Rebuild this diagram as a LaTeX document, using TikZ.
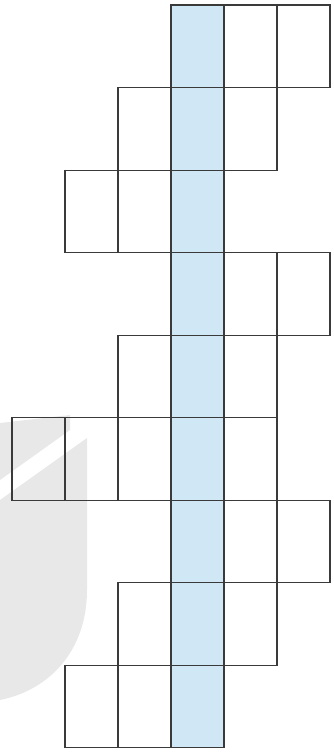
\documentclass[tikz,border=0pt]{standalone}
\usetikzlibrary{positioning}
\definecolor{edge}{HTML}{3A3A3A}
\definecolor{strip}{HTML}{D0E7F6}
\definecolor{wmgrey}{HTML}{E8E8E8}

\begin{document}
\begin{tikzpicture}[x=0.75pt,y=-0.75pt,cell/.style={draw=edge,line width=0.8pt,minimum width=39.75pt,minimum height=61.9pt,inner sep=0pt,outer sep=0pt},mid/.style={cell,fill=strip}]
\useasboundingbox (0,0) rectangle (333,752);
% faint logo behind the grid
\fill[wmgrey] (0,423) -- (70,415) -- (70,430) -- (0,480) -- cycle;
\fill[wmgrey] (0,500) -- (87,438) -- (87,590) .. controls (87,650) and (50,690) .. (0,700) -- cycle;
% shaded middle column
\node[mid] (m1) at (197.5,46.3) {};
\node[mid,below=0pt of m1] (m2) {};
\node[mid,below=0pt of m2] (m3) {};
\node[mid,below=0pt of m3] (m4) {};
\node[mid,below=0pt of m4] (m5) {};
\node[mid,below=0pt of m5] (m6) {};
\node[mid,below=0pt of m6] (m7) {};
\node[mid,below=0pt of m7] (m8) {};
\node[mid,below=0pt of m8] (m9) {};
% side cells
\node[cell,right=0pt of m1] (c14) {};
\node[cell,right=0pt of c14] (c15) {};
\node[cell,left=0pt of m2] (c22) {};
\node[cell,right=0pt of m2] (c24) {};
\node[cell,left=0pt of m3] (c32) {};
\node[cell,left=0pt of c32] (c31) {};
\node[cell,right=0pt of m4] (c44) {};
\node[cell,right=0pt of c44] (c45) {};
\node[cell,left=0pt of m5] (c52) {};
\node[cell,right=0pt of m5] (c54) {};
\node[cell,left=0pt of m6] (c62) {};
\node[cell,left=0pt of c62] (c61) {};
\node[cell,left=0pt of c61] (c60) {};
\node[cell,right=0pt of m6] (c64) {};
\node[cell,right=0pt of m7] (c74) {};
\node[cell,right=0pt of c74] (c75) {};
\node[cell,left=0pt of m8] (c82) {};
\node[cell,right=0pt of m8] (c84) {};
\node[cell,left=0pt of m9] (c92) {};
\node[cell,left=0pt of c92] (c91) {};
\end{tikzpicture}
\end{document}
